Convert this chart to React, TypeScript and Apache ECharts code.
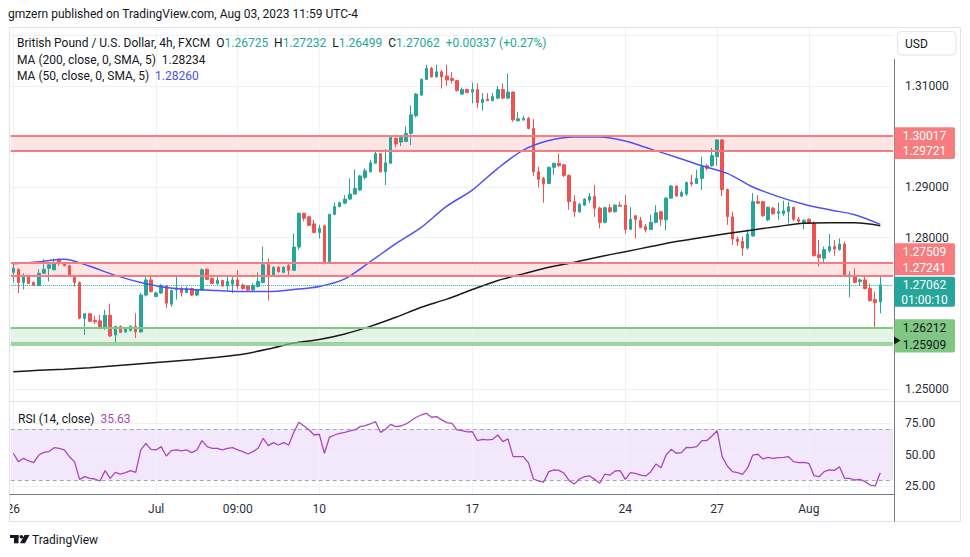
import React, { useEffect, useRef } from "react";
import * as echarts from "echarts";

// ---------- data ----------
const candleOpen = [
  1.2731, 1.2737, 1.2711, 1.2722, 1.2711, 1.2705, 1.2729, 1.2739, 1.2736, 1.2757,
  1.2750, 1.2744, 1.2724, 1.2711, 1.2640, 1.2649, 1.2636, 1.2635, 1.2620, 1.2646,
  1.2607, 1.2624, 1.2613, 1.2616, 1.2624, 1.2613, 1.2686, 1.2716, 1.2683, 1.2690,
  1.2704, 1.2668, 1.2696, 1.2699, 1.2691, 1.2699, 1.2686, 1.2696, 1.2737, 1.2719,
  1.2709, 1.2715, 1.2705, 1.2708, 1.2716, 1.2706, 1.2704, 1.2696, 1.2703, 1.2711,
  1.2746, 1.2726, 1.2741, 1.2731, 1.2744, 1.2735, 1.2781, 1.2848, 1.2841, 1.2827,
  1.2810, 1.2823, 1.2752, 1.2846, 1.2861, 1.2868, 1.2876, 1.2886, 1.2894, 1.2919,
  1.2930, 1.2947, 1.2966, 1.2930, 1.2947, 1.2996, 1.2989, 1.2990, 1.3006, 1.3041,
  1.3082, 1.3113, 1.3135, 1.3118, 1.3128, 1.3120, 1.3115, 1.3111, 1.3084, 1.3093,
  1.3088, 1.3093, 1.3067, 1.3074, 1.3071, 1.3076, 1.3093, 1.3076, 1.3088, 1.3031,
  1.3033, 1.3036, 1.3016, 1.2930, 1.2917, 1.2907, 1.2939, 1.2947, 1.2944, 1.2923,
  1.2871, 1.2851, 1.2864, 1.2874, 1.2881, 1.2858, 1.2830, 1.2859, 1.2851, 1.2864,
  1.2864, 1.2816, 1.2843, 1.2834, 1.2822, 1.2816, 1.2830, 1.2851, 1.2835, 1.2878,
  1.2902, 1.2882, 1.2886, 1.2909, 1.2907, 1.2917, 1.2942, 1.2942, 1.2960, 1.2993,
  1.2895, 1.2841, 1.2797, 1.2792, 1.2779, 1.2803, 1.2871, 1.2871, 1.2835, 1.2858,
  1.2848, 1.2847, 1.2851, 1.2860, 1.2836, 1.2828, 1.2836, 1.2828, 1.2766, 1.2759,
  1.2774, 1.2782, 1.2776, 1.2787, 1.2722, 1.2724, 1.2713, 1.2716, 1.2699, 1.2677,
  1.26725,
];
const candleClose = [
  1.2739, 1.2711, 1.2722, 1.2709, 1.2705, 1.2729, 1.2737, 1.2746, 1.2750, 1.2749,
  1.2744, 1.2726, 1.2711, 1.2640, 1.2649, 1.2634, 1.2633, 1.2620, 1.2646, 1.2605,
  1.2624, 1.2612, 1.2620, 1.2624, 1.2613, 1.2686, 1.2716, 1.2693, 1.2690, 1.2705,
  1.2670, 1.2695, 1.2700, 1.2691, 1.2699, 1.2686, 1.2696, 1.2736, 1.2717, 1.2709,
  1.2715, 1.2704, 1.2713, 1.2716, 1.2704, 1.2699, 1.2696, 1.2705, 1.2713, 1.2746,
  1.2724, 1.2741, 1.2732, 1.2741, 1.2735, 1.2781, 1.2848, 1.2838, 1.2824, 1.2810,
  1.2818, 1.2752, 1.2846, 1.2861, 1.2869, 1.2876, 1.2886, 1.2897, 1.2922, 1.2932,
  1.2948, 1.2966, 1.2930, 1.2948, 1.2998, 1.2985, 1.2998, 1.3006, 1.3043, 1.3084,
  1.3113, 1.3135, 1.3118, 1.3128, 1.3118, 1.3112, 1.3111, 1.3091, 1.3093, 1.3087,
  1.3093, 1.3067, 1.3074, 1.3071, 1.3079, 1.3093, 1.3076, 1.3088, 1.3033, 1.3035,
  1.3036, 1.3016, 1.2930, 1.2915, 1.2906, 1.2939, 1.2947, 1.2942, 1.2923, 1.2871,
  1.2851, 1.2866, 1.2876, 1.2881, 1.2858, 1.2830, 1.2859, 1.2851, 1.2864, 1.2862,
  1.2816, 1.2836, 1.2836, 1.2820, 1.2815, 1.2830, 1.2849, 1.2836, 1.2878, 1.2902,
  1.2882, 1.2889, 1.2909, 1.2906, 1.2917, 1.2940, 1.2937, 1.2962, 1.2993, 1.2895,
  1.2841, 1.2797, 1.2792, 1.2779, 1.2807, 1.2871, 1.2868, 1.2843, 1.2860, 1.2847,
  1.2851, 1.2853, 1.2861, 1.2836, 1.2832, 1.2834, 1.2828, 1.2764, 1.2760, 1.2776,
  1.2782, 1.2777, 1.2787, 1.2724, 1.2726, 1.2711, 1.2716, 1.2699, 1.2675, 1.2671,
  1.27062,
];
const candleLow = [
  1.2711, 1.2690, 1.2697, 1.2708, 1.2704, 1.2704, 1.2728, 1.2713, 1.2735, 1.2744,
  1.2743, 1.2724, 1.2703, 1.2638, 1.2607, 1.2633, 1.2629, 1.2618, 1.2617, 1.2603,
  1.2592, 1.2611, 1.2612, 1.2614, 1.2601, 1.2612, 1.2683, 1.2691, 1.2682, 1.2688,
  1.2660, 1.2663, 1.2677, 1.2683, 1.2690, 1.2684, 1.2684, 1.2695, 1.2716, 1.2708,
  1.2706, 1.2703, 1.2696, 1.2690, 1.2697, 1.2696, 1.2695, 1.2693, 1.2701, 1.2709,
  1.2675, 1.2724, 1.2731, 1.2729, 1.2726, 1.2734, 1.2776, 1.2832, 1.2823, 1.2808,
  1.2798, 1.2750, 1.2750, 1.2844, 1.2860, 1.2866, 1.2874, 1.2885, 1.2893, 1.2915,
  1.2929, 1.2946, 1.2929, 1.2904, 1.2946, 1.2979, 1.2981, 1.2989, 1.2983, 1.3038,
  1.3080, 1.3112, 1.3117, 1.3117, 1.3095, 1.3100, 1.3105, 1.3089, 1.3083, 1.3086,
  1.3066, 1.3056, 1.3051, 1.3070, 1.3070, 1.3074, 1.3074, 1.3074, 1.3029, 1.3030,
  1.3031, 1.3014, 1.2922, 1.2899, 1.2869, 1.2906, 1.2924, 1.2940, 1.2920, 1.2855,
  1.2841, 1.2849, 1.2863, 1.2868, 1.2841, 1.2818, 1.2828, 1.2849, 1.2849, 1.2861,
  1.2808, 1.2815, 1.2798, 1.2818, 1.2810, 1.2815, 1.2828, 1.2823, 1.2814, 1.2876,
  1.2881, 1.2880, 1.2882, 1.2901, 1.2906, 1.2894, 1.2933, 1.2940, 1.2942, 1.2882,
  1.2825, 1.2785, 1.2783, 1.2764, 1.2776, 1.2802, 1.2866, 1.2841, 1.2832, 1.2845,
  1.2835, 1.2843, 1.2828, 1.2832, 1.2827, 1.2816, 1.2827, 1.2762, 1.2743, 1.2750,
  1.2770, 1.2764, 1.2774, 1.2722, 1.2682, 1.2709, 1.2704, 1.2697, 1.2673, 1.2620,
  1.26499,
];
const candleHigh = [
  1.2748, 1.2739, 1.2729, 1.2726, 1.2713, 1.2737, 1.2757, 1.2750, 1.2758, 1.2758,
  1.2752, 1.2746, 1.2726, 1.2713, 1.2650, 1.2650, 1.2645, 1.2647, 1.2657, 1.2669,
  1.2625, 1.2626, 1.2621, 1.2626, 1.2650, 1.2690, 1.2726, 1.2722, 1.2693, 1.2708,
  1.2706, 1.2697, 1.2724, 1.2703, 1.2703, 1.2701, 1.2697, 1.2739, 1.2739, 1.2721,
  1.2722, 1.2716, 1.2722, 1.2724, 1.2736, 1.2709, 1.2705, 1.2709, 1.2731, 1.2782,
  1.2758, 1.2743, 1.2743, 1.2743, 1.2748, 1.2808, 1.2849, 1.2849, 1.2843, 1.2835,
  1.2825, 1.2826, 1.2847, 1.2869, 1.2871, 1.2884, 1.2917, 1.2935, 1.2924, 1.2937,
  1.2954, 1.2970, 1.2967, 1.2975, 1.2999, 1.2998, 1.2999, 1.3020, 1.3062, 1.3086,
  1.3115, 1.3142, 1.3138, 1.3142, 1.3132, 1.3142, 1.3128, 1.3112, 1.3097, 1.3095,
  1.3107, 1.3105, 1.3086, 1.3086, 1.3086, 1.3100, 1.3105, 1.3125, 1.3089, 1.3049,
  1.3041, 1.3039, 1.3034, 1.2940, 1.2920, 1.2940, 1.2948, 1.2966, 1.2946, 1.2925,
  1.2884, 1.2868, 1.2878, 1.2888, 1.2904, 1.2861, 1.2861, 1.2866, 1.2866, 1.2871,
  1.2884, 1.2860, 1.2845, 1.2841, 1.2827, 1.2845, 1.2864, 1.2853, 1.2880, 1.2904,
  1.2903, 1.2893, 1.2911, 1.2924, 1.2934, 1.2960, 1.2946, 1.2977, 1.2995, 1.2995,
  1.2897, 1.2851, 1.2802, 1.2802, 1.2816, 1.2888, 1.2884, 1.2873, 1.2861, 1.2861,
  1.2869, 1.2873, 1.2871, 1.2861, 1.2841, 1.2836, 1.2838, 1.2832, 1.2795, 1.2782,
  1.2807, 1.2795, 1.2798, 1.2792, 1.2733, 1.2739, 1.2719, 1.2726, 1.2709, 1.2693,
  1.27232,
];

// moving averages, read every 5th bar
const maStep = 5;
const ma50Values = [
  1.2748, 1.2752, 1.2757, 1.2743, 1.2725, 1.2711, 1.2701, 1.2697, 1.2695, 1.2693,
  1.2693, 1.2697, 1.2703, 1.2718, 1.2752, 1.2788, 1.2820, 1.2862, 1.2894, 1.2937,
  1.2973, 1.2992, 1.2999, 1.2999, 1.2991, 1.2975, 1.2959, 1.2942, 1.2927, 1.2900,
  1.2881, 1.2866, 1.2855, 1.2845, 1.2826,
];
const ma200Values = [
  1.2534, 1.2537, 1.2539, 1.2542, 1.2546, 1.2550, 1.2554, 1.2558, 1.2563, 1.2569,
  1.2579, 1.2591, 1.2598, 1.2609, 1.2624, 1.2642, 1.2662, 1.2678, 1.2697, 1.2715,
  1.2728, 1.2741, 1.2751, 1.2762, 1.2772, 1.2782, 1.2792, 1.2800, 1.2808, 1.2815,
  1.2822, 1.2828, 1.2829, 1.2829, 1.28234,
];

const rsiValues = [
  51.1, 44.5, 47.1, 45.0, 43.7, 49.7, 51.8, 52.4, 55.5, 55.0,
  53.7, 48.4, 44.5, 30.5, 32.6, 31.3, 30.8, 29.2, 37.4, 31.3,
  36.0, 34.7, 35.8, 37.4, 36.0, 53.7, 58.9, 54.2, 53.7, 56.3,
  48.9, 53.2, 53.7, 52.9, 53.7, 51.6, 53.7, 61.1, 56.3, 55.0,
  55.0, 53.7, 55.0, 55.5, 53.7, 52.4, 50.5, 52.4, 55.0, 62.9,
  57.1, 59.5, 57.6, 59.5, 57.6, 67.6, 75.5, 72.6, 69.5, 65.5,
  66.1, 51.1, 63.7, 65.5, 66.8, 67.6, 68.7, 69.5, 72.1, 72.9,
  74.2, 76.1, 67.6, 70.0, 73.9, 72.1, 72.6, 74.2, 76.8, 79.5,
  81.3, 82.6, 79.5, 80.0, 77.4, 75.3, 74.7, 69.5, 68.9, 67.9,
  68.2, 61.1, 62.1, 61.6, 62.1, 65.5, 60.3, 62.4, 48.4, 48.4,
  48.4, 43.7, 30.8, 29.2, 28.4, 36.6, 37.9, 37.6, 35.3, 29.5,
  26.8, 30.8, 32.6, 33.2, 30.5, 27.4, 34.7, 33.9, 37.1, 37.4,
  30.5, 35.8, 35.3, 33.9, 33.2, 36.6, 42.6, 39.7, 49.7, 54.2,
  51.1, 51.6, 55.8, 55.5, 56.3, 61.1, 61.1, 64.7, 68.9, 48.4,
  41.0, 36.6, 35.8, 34.5, 39.7, 49.7, 50.3, 46.6, 47.9, 47.1,
  47.6, 47.9, 48.4, 44.5, 43.7, 43.9, 43.2, 33.4, 32.6, 36.6,
  37.9, 37.6, 40.5, 31.3, 31.3, 30.0, 30.5, 28.7, 26.0, 25.3,
  35.63,
];

const timeTickIndex = [0, 28, 44, 60, 90, 120, 138, 156];
const timeTickText = ["26", "Jul", "09:00", "10", "17", "24", "27", "Aug"];
const priceGridValues = [1.25, 1.26, 1.27, 1.28, 1.29, 1.3, 1.31, 1.32];
const priceLabelValues = [1.25, 1.28, 1.29, 1.31];
const rsiGridValues = [25, 50, 75];
const rsiBand = [30, 70];
const upperZone = [1.29721, 1.30017];
const middleZone = [1.27241, 1.27509];
const supportZone = [1.25909, 1.26212];
const supportExtraLine = 1.2587;
const lastPrice = 1.27062;
const legendOHLC = ["1.26725", "1.27232", "1.26499", "1.27062"];
const legendChange = "+0.00337 (+0.27%)";
const ma200Last = "1.28234";
const ma50Last = "1.28260";
const rsiLast = "35.63";
const countdown = "01:00:10";
const emptySlots = 2;

// ---------- styling / layout ----------
const FONT = 'Roboto, "Noto Sans", Arial, sans-serif';
const UP = "#26a69a";
const DOWN = "#ef5350";
const RED_LINE = "#f77c80";
const GREEN_LINE = "#81c784";
const GRID_COLOR = "#eef1f6";
const TEXT = "#131722";
const AXIS_TEXT = "#2a2e39";
const MA50_COLOR = "#5050f5";
const MA200_COLOR = "#1a1a1a";
const RSI_COLOR = "#ab47bc";

const SLOT = 5.1;
const PANE_LEFT = 10.75;
const MAIN_TOP = 27;
const MAIN_H = 374;
const RSI_TOP = 402;
const RSI_H = 92;
const MAIN_MIN = 1.247624;
const MAIN_MAX = 1.321683;
const RSI_MIN = 18.95;
const RSI_MAX = 91.54;

function buildOption() {
  const n = candleOpen.length;
  const total = n + emptySlots;
  const cats = Array.from({ length: total }, (_, i) => String(i));
  const labelOf = (i: number) => {
    const k = timeTickIndex.indexOf(i);
    return k >= 0 ? timeTickText[k] : "";
  };
  const candles = candleOpen.map((o, i) => [o, candleClose[i], candleLow[i], candleHigh[i]]);
  const sparse = (vals: number[]) =>
    Array.from({ length: n }, (_, i) =>
      i % maStep === 0 && vals[i / maStep] !== undefined ? vals[i / maStep] : null
    );
  const width = total * SLOT;

  const gridLine = { color: GRID_COLOR, width: 1, type: "solid" };
  const solid = (color: string, w: number) => ({ color, width: w, type: "solid" });

  return {
    animation: false,
    backgroundColor: "#ffffff",
    grid: [
      { left: PANE_LEFT, top: MAIN_TOP, width, height: MAIN_H },
      { left: PANE_LEFT, top: RSI_TOP, width, height: RSI_H },
    ],
    xAxis: [
      {
        gridIndex: 0, type: "category", data: cats, boundaryGap: true,
        axisLine: { show: false }, axisTick: { show: false },
        axisLabel: { show: false }, splitLine: { show: false },
      },
      {
        gridIndex: 1, type: "category", data: cats, boundaryGap: true,
        axisLine: { show: false }, axisTick: { show: false }, splitLine: { show: false },
        axisLabel: {
          show: true,
          interval: (idx: number) => timeTickIndex.indexOf(idx) >= 0,
          formatter: (v: string) => labelOf(Number(v)),
          color: AXIS_TEXT, fontSize: 12, fontFamily: FONT, margin: 9,
        },
      },
    ],
    yAxis: [
      {
        gridIndex: 0, type: "value", position: "right", min: MAIN_MIN, max: MAIN_MAX,
        axisLine: { show: false }, axisTick: { show: false }, splitLine: { show: false },
        axisLabel: {
          customValues: priceLabelValues,
          formatter: (v: number) => v.toFixed(5),
          color: AXIS_TEXT, fontSize: 12, fontFamily: FONT, margin: 12,
        },
      },
      {
        gridIndex: 1, type: "value", position: "right", min: RSI_MIN, max: RSI_MAX,
        axisLine: { show: false }, axisTick: { show: false }, splitLine: { show: false },
        axisLabel: {
          customValues: rsiGridValues,
          formatter: (v: number) => v.toFixed(2),
          color: AXIS_TEXT, fontSize: 12, fontFamily: FONT, margin: 12,
        },
      },
    ],
    series: [
      {
        name: "MA200", type: "line", xAxisIndex: 0, yAxisIndex: 0,
        data: sparse(ma200Values), connectNulls: true, smooth: 0.3,
        showSymbol: false, symbol: "none", z: 3,
        lineStyle: { color: MA200_COLOR, width: 1.5 },
        silent: true,
        markLine: {
          z: 1, silent: true, symbol: ["none", "none"], label: { show: false },
          precision: 5, lineStyle: gridLine, animation: false,
          data: [
            ...timeTickIndex.map((i) => ({ xAxis: i, lineStyle: gridLine })),
            ...priceGridValues.map((v) => ({ yAxis: v, lineStyle: gridLine })),
          ],
        },
      },
      {
        name: "GBPUSD", type: "candlestick", xAxisIndex: 0, yAxisIndex: 0,
        data: candles, barWidth: 3, z: 2, silent: true,
        itemStyle: {
          color: UP, color0: DOWN, borderColor: UP, borderColor0: DOWN, borderWidth: 1,
        },
        markArea: {
          silent: true, animation: false,
          data: [
            [{ yAxis: upperZone[0], itemStyle: { color: "rgba(247,124,128,0.2)" } }, { yAxis: upperZone[1] }],
            [{ yAxis: middleZone[0], itemStyle: { color: "rgba(247,124,128,0.2)" } }, { yAxis: middleZone[1] }],
            [{ yAxis: supportZone[0], itemStyle: { color: "rgba(129,199,132,0.22)" } }, { yAxis: supportZone[1] }],
          ],
        },
        markLine: {
          silent: true, symbol: ["none", "none"], label: { show: false }, animation: false,
          precision: 5,
          data: [
            { yAxis: upperZone[0], lineStyle: solid(RED_LINE, 2) },
            { yAxis: upperZone[1], lineStyle: solid(RED_LINE, 2) },
            { yAxis: middleZone[0], lineStyle: solid(RED_LINE, 2) },
            { yAxis: middleZone[1], lineStyle: solid(RED_LINE, 2) },
            { yAxis: supportZone[1], lineStyle: solid(GREEN_LINE, 2) },
            { yAxis: supportZone[0], lineStyle: solid(GREEN_LINE, 1.5) },
            { yAxis: supportExtraLine, lineStyle: solid(GREEN_LINE, 1.5) },
            { yAxis: lastPrice, lineStyle: { color: UP, width: 1, type: "dotted" } },
          ],
        },
      },
      {
        name: "MA50", type: "line", xAxisIndex: 0, yAxisIndex: 0,
        data: sparse(ma50Values), connectNulls: true, smooth: 0.3,
        showSymbol: false, symbol: "none", z: 3, silent: true,
        lineStyle: { color: MA50_COLOR, width: 1.5 },
      },
      {
        name: "RSI", type: "line", xAxisIndex: 1, yAxisIndex: 1,
        data: rsiValues, showSymbol: false, symbol: "none", z: 3, silent: true,
        lineStyle: { color: RSI_COLOR, width: 1.3 },
        markArea: {
          z: 0, silent: true, animation: false,
          data: [[{ yAxis: rsiBand[1], itemStyle: { color: "#f3e7fc" } }, { yAxis: rsiBand[0] }]],
        },
        markLine: {
          z: 1, silent: true, symbol: ["none", "none"], label: { show: false }, animation: false,
          precision: 3,
          data: [
            ...timeTickIndex.map((i) => ({ xAxis: i, lineStyle: gridLine })),
            ...rsiGridValues.map((v) => ({ yAxis: v, lineStyle: gridLine })),
            ...rsiBand.map((v) => ({ yAxis: v, lineStyle: { color: "#a3a6af", width: 1, type: [4, 3] } })),
          ],
        },
      },
    ],
  };
}

function buildGraphics(chart: any) {
  const py = (v: number) => chart.convertToPixel({ gridIndex: 0 }, [0, v])[1];
  const els: any[] = [];
  const txt = (x: number, y: number, text: string, extra: any = {}) => ({
    type: "text", x, y, z: 30,
    style: {
      text, fill: TEXT, fontSize: 12, fontFamily: FONT,
      align: "left", verticalAlign: "middle", ...extra,
    },
  });

  // header
  els.push(txt(8, 14, "gmzern published on TradingView.com, Aug 03, 2023 11:59 UTC-4", { fontSize: 12 }));

  // frame, separators, axis lines
  els.push({ type: "rect", z: 25, shape: { x: 9.5, y: 27.5, width: 951, height: 494 }, style: { fill: "none", stroke: "#e0e3eb", lineWidth: 1 } });
  els.push({ type: "rect", z: 24, shape: { x: 0, y: 495, width: 9.5, height: 26 }, style: { fill: "#ffffff" } });
  els.push({ type: "line", z: 25, shape: { x1: 9.5, y1: 401.5, x2: 960.5, y2: 401.5 }, style: { stroke: "#e0e3eb", lineWidth: 1 } });
  els.push({ type: "line", z: 26, shape: { x1: 9.5, y1: 494.5, x2: 894.5, y2: 494.5 }, style: { stroke: "#787b86", lineWidth: 1 } });
  els.push({ type: "line", z: 26, shape: { x1: 894.5, y1: 59, x2: 894.5, y2: 521.5 }, style: { stroke: "#787b86", lineWidth: 1 } });

  // USD box
  els.push({ type: "rect", z: 30, shape: { x: 897.5, y: 31.5, width: 58.5, height: 23.5, r: 4 }, style: { fill: "#ffffff", stroke: "#e0e3eb", lineWidth: 1 } });
  els.push(txt(905, 43.5, "USD"));

  // legends
  const rich = {
    t: { fill: TEXT, color: TEXT, fontSize: 12, fontFamily: FONT },
    v: { fill: UP, color: UP, fontSize: 12, fontFamily: FONT },
    k: { fill: MA200_COLOR, color: MA200_COLOR, fontSize: 12, fontFamily: FONT },
    b: { fill: MA50_COLOR, color: MA50_COLOR, fontSize: 12, fontFamily: FONT },
    p: { fill: RSI_COLOR, color: RSI_COLOR, fontSize: 12, fontFamily: FONT },
  };
  els.push({
    type: "text", x: 17, y: 42.5, z: 30,
    style: {
      text:
        "{t|British Pound / U.S. Dollar, 4h, FXCM  }" +
        `{t|O}{v|${legendOHLC[0]}  }{t|H}{v|${legendOHLC[1]}  }{t|L}{v|${legendOHLC[2]}  }{t|C}{v|${legendOHLC[3]}  }{v|${legendChange}}`,
      rich, verticalAlign: "middle", align: "left",
    },
  });
  els.push({
    type: "text", x: 17, y: 59.5, z: 30,
    style: { text: `{t|MA (200, close, 0, SMA, 5)  }{k|${ma200Last}}`, rich, verticalAlign: "middle", align: "left" },
  });
  els.push({
    type: "text", x: 17, y: 76, z: 30,
    style: { text: `{t|MA (50, close, 0, SMA, 5)  }{b|${ma50Last}}`, rich, verticalAlign: "middle", align: "left" },
  });
  els.push({
    type: "text", x: 18, y: 419, z: 30,
    style: { text: `{t|RSI (14, close)  }{p|${rsiLast}}`, rich, verticalAlign: "middle", align: "left" },
  });

  // price badges
  const BX = 894.5, BW = 60.5, CX = 924.5;
  const badge = (y1: number, y2: number, fill: string) => ({
    type: "rect", z: 40, shape: { x: BX, y: y1, width: BW, height: y2 - y1, r: [0, 2, 2, 0] }, style: { fill },
  });
  const btxt = (y: number, text: string, fill: string) => ({
    type: "text", x: CX, y, z: 41,
    style: { text, fill, fontSize: 12, fontFamily: FONT, align: "center", verticalAlign: "middle" },
  });
  const yA1 = py(upperZone[1]), yA2 = py(upperZone[0]);
  els.push(badge(yA1 - 8.5, yA2 + 8.5, RED_LINE));
  els.push(btxt(yA1, upperZone[1].toFixed(5), "#ffffff"));
  els.push(btxt(yA2, upperZone[0].toFixed(5), "#ffffff"));

  const yL = py(lastPrice);
  const yB1 = py(middleZone[1]) - 10, yB2 = py(middleZone[0]) - 7.5;
  els.push(badge(yB1 - 9, yL - 9.5, RED_LINE));
  els.push(btxt(yB1, middleZone[1].toFixed(5), "#ffffff"));
  els.push(btxt(yB2, middleZone[0].toFixed(5), "#ffffff"));

  els.push(badge(yL - 8, yL + 22, UP));
  els.push(btxt(yL, lastPrice.toFixed(5), "#ffffff"));
  els.push(btxt(yL + 15, countdown, "#ffffff"));

  const yG1 = py(supportZone[1]), yG2 = py(supportZone[0]) + 2;
  els.push(badge(yG1 - 8.5, yG2 + 7.5, GREEN_LINE));
  els.push(btxt(yG1, supportZone[1].toFixed(5), TEXT));
  els.push(btxt(yG2, supportZone[0].toFixed(5), TEXT));
  const yT = (yG1 + yG2) / 2 + 4;
  els.push({ type: "polygon", z: 42, shape: { points: [[894, yT - 4], [900.5, yT], [894, yT + 4]] }, style: { fill: TEXT } });

  // TradingView logo
  els.push({ type: "rect", z: 30, shape: { x: 10, y: 535, width: 8.5, height: 3 }, style: { fill: TEXT } });
  els.push({ type: "rect", z: 30, shape: { x: 14, y: 535, width: 4.5, height: 8.3 }, style: { fill: TEXT } });
  els.push({ type: "circle", z: 30, shape: { cx: 21.4, cy: 536.8, r: 1.8 }, style: { fill: TEXT } });
  els.push({ type: "polygon", z: 30, shape: { points: [[24.5, 535], [29.5, 535], [25, 543.3], [20, 543.3]] }, style: { fill: TEXT } });
  els.push(txt(32, 539.5, "TradingView", { fontSize: 12 }));

  return els;
}

export default function App() {
  const ref = useRef<HTMLDivElement>(null);
  useEffect(() => {
    const el = ref.current;
    if (!el) return;
    const chart = echarts.init(el, undefined, { renderer: "svg" });
    chart.setOption(buildOption() as any);
    chart.setOption({ graphic: { elements: buildGraphics(chart) } } as any);
    return () => chart.dispose();
  }, []);
  return (
    <div
      ref={ref}
      style={{ position: "absolute", left: 0, top: 0, width: 970, height: 557, background: "#ffffff" }}
    />
  );
}
